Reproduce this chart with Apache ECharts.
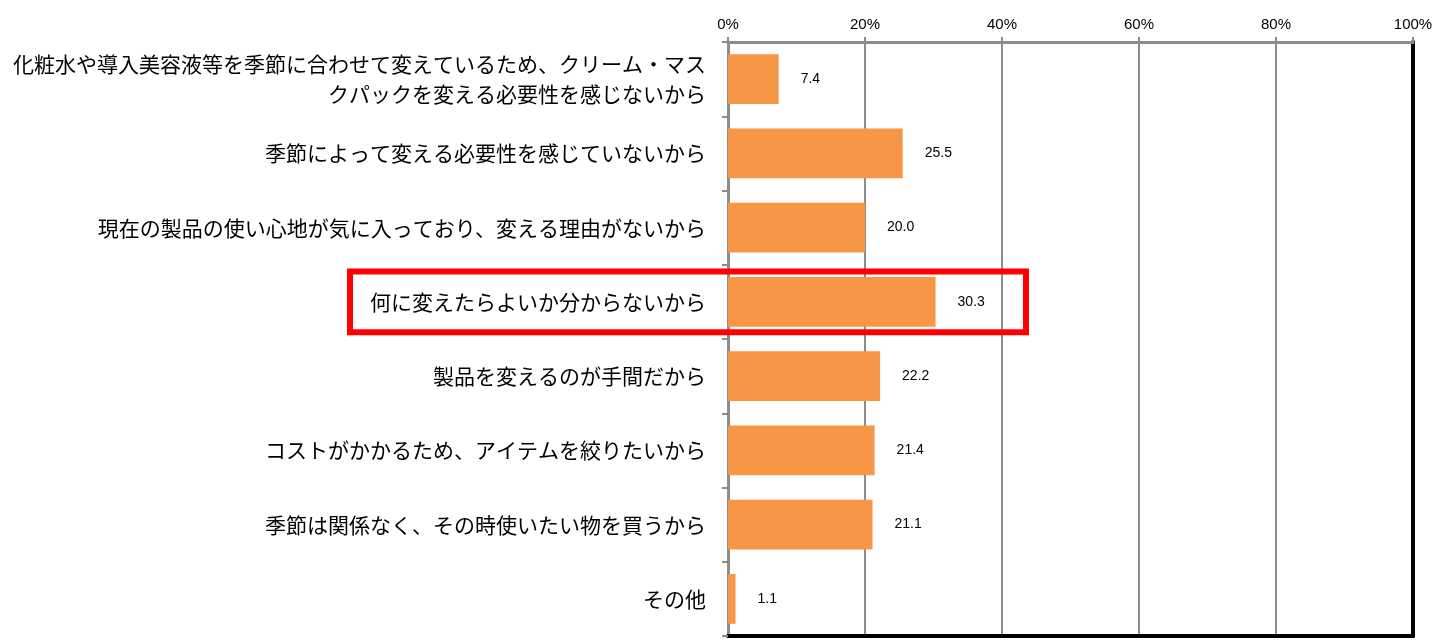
<!DOCTYPE html>
<html><head><meta charset="utf-8">
<script src="https://cdn.jsdelivr.net/npm/echarts@6/dist/echarts.min.js"></script>
<style>html,body{margin:0;padding:0;background:#fff}#c{width:1446px;height:643px}</style>
</head><body><div id="c"></div>
<script>
const categories = [
  '化粧水や導入美容液等を季節に合わせて変えているため、クリーム・マス\nクパックを変える必要性を感じないから',
  '季節によって変える必要性を感じていないから',
  '現在の製品の使い心地が気に入っており、変える理由がないから',
  '何に変えたらよいか分からないから',
  '製品を変えるのが手間だから',
  'コストがかかるため、アイテムを絞りたいから',
  '季節は関係なく、その時使いたい物を買うから',
  'その他'
];
const values = [7.4, 25.5, 20.0, 30.3, 22.2, 21.4, 21.1, 1.1];
const highlightIndex = 3;
const highlightRightValue = 43.5;

const chart = echarts.init(document.getElementById('c'));
const grid = {left: 728, right: 33, top: 42, bottom: 7};
chart.setOption({
  animation: false,
  grid: grid,
  xAxis: [{
    type: 'value', position: 'top', min: 0, max: 100, interval: 20,
    axisLabel: {formatter: '{value}%', fontSize: 15, color: '#000', fontFamily: 'Liberation Sans Narrow, Liberation Sans, sans-serif', margin: 10},
    axisLine: {show: true, onZero: false, lineStyle: {color: '#8c8c8c', width: 3}},
    axisTick: {show: true, length: 5, lineStyle: {color: '#8c8c8c', width: 2}},
    splitLine: {show: true, lineStyle: {color: '#8c8c8c', width: 2}}
  }, {
    type: 'value', position: 'bottom', min: 0, max: 100,
    axisLabel: {show: false}, axisTick: {show: false}, splitLine: {show: false},
    axisLine: {show: true, onZero: false, lineStyle: {color: '#000', width: 4}}
  }],
  yAxis: [{
    type: 'category', data: categories, inverse: true,
    axisLabel: {fontSize: 21, color: '#000', margin: 22, lineHeight: 30,
      fontFamily: 'Noto Sans CJK JP, sans-serif', align: 'right'},
    axisLine: {show: true, onZero: false, lineStyle: {color: '#8c8c8c', width: 3}},
    axisTick: {show: true, length: 6, lineStyle: {color: '#8c8c8c', width: 2}}
  }, {
    type: 'category', data: categories, inverse: true, position: 'right',
    axisLabel: {show: false}, axisTick: {show: false},
    axisLine: {show: true, onZero: false, lineStyle: {color: '#000', width: 4}}
  }],
  series: [{
    type: 'bar', data: values, barWidth: '67%', z: 3,
    itemStyle: {color: '#F79646'},
    label: {show: true, position: 'right', distance: 22, fontSize: 14, color: '#000',
      fontFamily: 'Liberation Sans, sans-serif', formatter: p => p.value.toFixed(1)}
  }]
});

const yc = chart.convertToPixel({yAxisIndex: 0}, categories[highlightIndex]);
const xr = chart.convertToPixel({xAxisIndex: 0}, highlightRightValue);
const band = (643 - grid.top - grid.bottom) / categories.length;
chart.setOption({
  graphic: [{
    type: 'rect', z: 100,
    shape: {x: 350, y: yc - band * 0.41, width: xr - 350, height: band * 0.82},
    style: {fill: 'none', stroke: '#FF0000', lineWidth: 6}
  }]
});
</script></body></html>
